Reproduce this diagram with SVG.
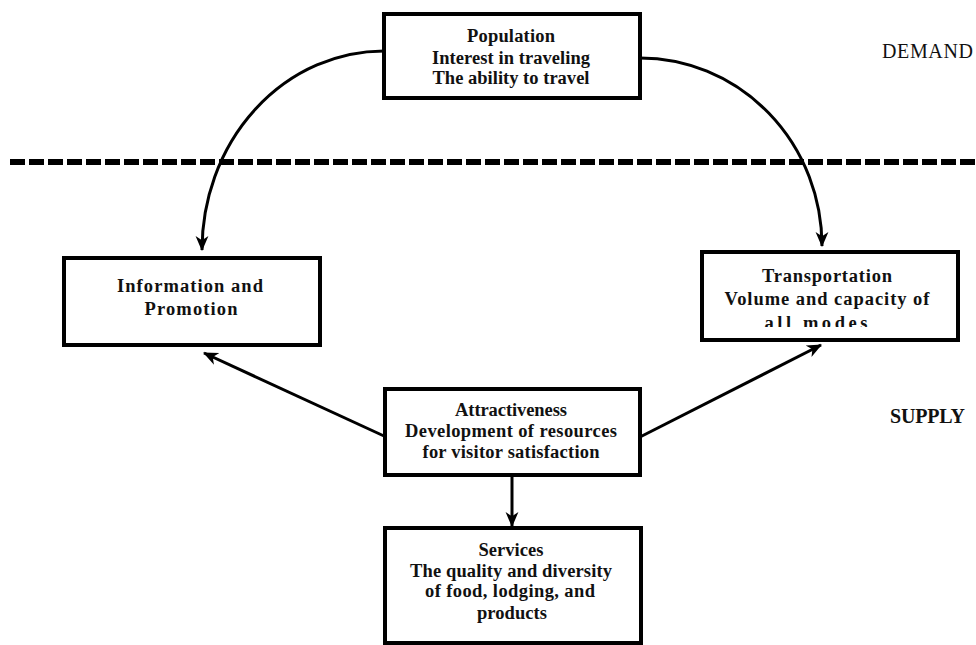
<svg xmlns="http://www.w3.org/2000/svg" width="976" height="645" viewBox="0 0 976 645">
<style>
.box{fill:#fff;stroke:#000;stroke-width:4}
.t{font-family:"Liberation Serif","Times New Roman",serif;font-weight:bold;font-size:18.5px;fill:#111;text-anchor:middle}
.lbl{font-family:"Liberation Serif","Times New Roman",serif;font-size:20px;fill:#111}
.con{fill:none;stroke:#000;stroke-width:3;marker-end:url(#ah)}
</style>
<defs>
<marker id="ah" viewBox="0 0 14 14" refX="13" refY="7" markerWidth="15" markerHeight="15" markerUnits="userSpaceOnUse" orient="auto">
<path d="M0,1 L14,7 L0,13 L4,7 z" fill="#000"/>
</marker>
<clipPath id="clipT"><rect x="700" y="250" width="260" height="77"/></clipPath>
</defs>
<rect width="976" height="645" fill="#fff"/>
<line id="divider" x1="10" y1="162" x2="976" y2="162" stroke="#000" stroke-width="6" stroke-dasharray="15 4"/>
<g id="connectors">
<path class="con" d="M384,51 A182,199 0 0 0 202,250"/>
<path class="con" d="M640,58 A182,188 0 0 1 822,246"/>
<line class="con" x1="384" y1="436" x2="204" y2="353"/>
<line class="con" x1="640" y1="437" x2="821" y2="345"/>
<line class="con" x1="512" y1="475" x2="512" y2="526"/>
</g>
<g id="population">
<rect class="box" x="384" y="14" width="256" height="84"/>
<text class="t" x="511" y="42" textLength="88" lengthAdjust="spacing">Population</text>
<text class="t" x="511" y="64" textLength="158" lengthAdjust="spacing">Interest in traveling</text>
<text class="t" x="511" y="84" textLength="157" lengthAdjust="spacing">The ability to travel</text>
</g>
<g id="information">
<rect class="box" x="64" y="258" width="256" height="87"/>
<text class="t" x="190" y="292" textLength="146" lengthAdjust="spacing">Information and</text>
<text class="t" x="191" y="315" textLength="93" lengthAdjust="spacing">Promotion</text>
</g>
<g id="transportation">
<rect class="box" x="702" y="252" width="256" height="88"/>
<text class="t" x="827" y="282" textLength="130" lengthAdjust="spacing">Transportation</text>
<text class="t" x="827" y="305" textLength="205" lengthAdjust="spacing">Volume and capacity of</text>
<text class="t" x="816" y="329" textLength="103" lengthAdjust="spacing" clip-path="url(#clipT)">all modes</text>
</g>
<g id="attractiveness">
<rect class="box" x="385" y="389" width="255" height="86"/>
<text class="t" x="511" y="416" textLength="112" lengthAdjust="spacing">Attractiveness</text>
<text class="t" x="511" y="437" textLength="212" lengthAdjust="spacing">Development of resources</text>
<text class="t" x="511" y="458" textLength="177" lengthAdjust="spacing">for visitor satisfaction</text>
</g>
<g id="services">
<rect class="box" x="385" y="528" width="256" height="115"/>
<text class="t" x="511" y="556" textLength="65" lengthAdjust="spacing">Services</text>
<text class="t" x="511" y="577" textLength="202" lengthAdjust="spacing">The quality and diversity</text>
<text class="t" x="510" y="597" textLength="170" lengthAdjust="spacing">of food, lodging, and</text>
<text class="t" x="512" y="619" textLength="70" lengthAdjust="spacing">products</text>
</g>
<g id="labels">
<text class="lbl" x="882" y="58" textLength="91" lengthAdjust="spacing">DEMAND</text>
<text class="lbl" x="890" y="423" font-weight="bold" textLength="75" lengthAdjust="spacing">SUPPLY</text>
</g>
</svg>
